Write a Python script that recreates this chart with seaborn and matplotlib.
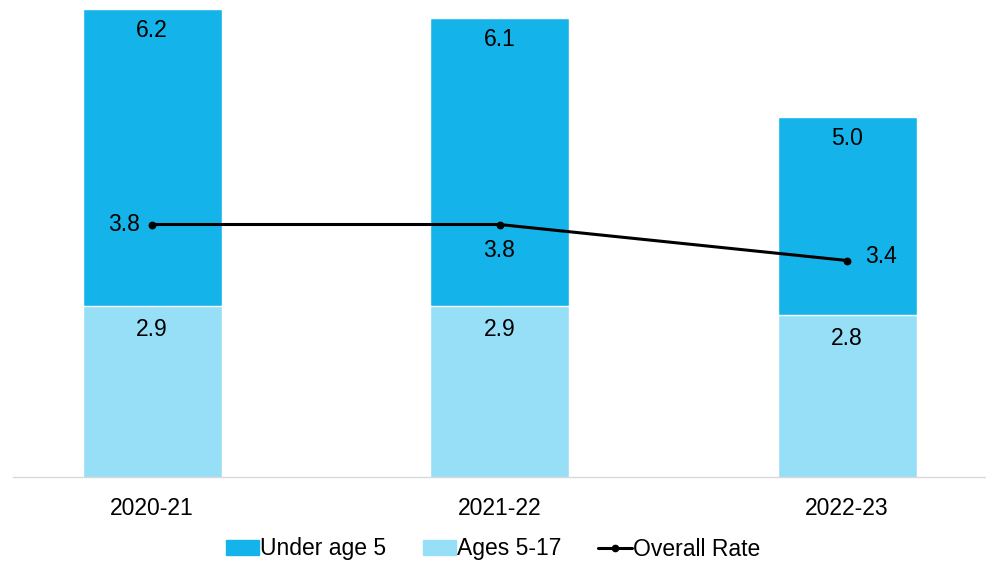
import pandas as pd
import matplotlib.pyplot as plt
import seaborn as sns
from matplotlib.patches import Patch
from matplotlib.lines import Line2D

# Chart data
years = ['2020-21', '2021-22', '2022-23']
under_5 = [6.2, 6.1, 5.0]
ages_5_17 = [2.9, 2.9, 2.8]
overall = [3.8, 3.8, 3.4]

dark_blue = '#14B4EA'
light_blue = '#97DFF6'

sns.set_style("white")
plt.rcParams['font.family'] = ['Liberation Sans', 'DejaVu Sans']
plt.rcParams['text.color'] = 'black'
plt.rcParams['xtick.color'] = 'black'

df = pd.DataFrame({'year': years, 'under_5': under_5,
                   'ages_5_17': ages_5_17, 'overall': overall})

fig = plt.figure(figsize=(9.86, 5.62), dpi=100)
ax = fig.add_axes([13 / 986, 85.5 / 562, 973 / 986, 476.5 / 562])

# Overlapping bars: under age 5 behind, ages 5-17 in front
sns.barplot(data=df, x='year', y='under_5', color=dark_blue, width=0.4,
            saturation=1, ax=ax)
sns.barplot(data=df, x='year', y='ages_5_17', color=light_blue, width=0.4,
            saturation=1, ax=ax)
sns.pointplot(data=df, x='year', y='overall', color='black', markers='o',
              markersize=4, linewidth=2.2, ax=ax)

ax.set_ylim(1, 1 + 476.5 / 90)
ax.set_xlim(-0.4, 2.4)

# Value labels
fs = 16.5
for i in range(len(years)):
    ax.annotate(f'{under_5[i]:.1f}', (i, under_5[i]), xytext=(0, -16),
                textcoords='offset points', ha='center', va='center',
                fontsize=fs, color='black')
    ax.annotate(f'{ages_5_17[i]:.1f}', (i, ages_5_17[i]), xytext=(0, -17),
                textcoords='offset points', ha='center', va='center',
                fontsize=fs, color='black')

line_offsets = [(-9, 0, 'right'), (0, -19, 'center'), (13, 3, 'left')]
for i, (dx, dy, ha) in enumerate(line_offsets):
    ax.annotate(f'{overall[i]:.1f}', (i, overall[i]), xytext=(dx, dy),
                textcoords='offset points', ha=ha, va='center',
                fontsize=fs, color='black')

ax.set_xlabel('')
ax.set_ylabel('')
ax.set_yticks([])
ax.tick_params(axis='x', length=0, pad=15, labelsize=fs, labelcolor='black')
for side in ['top', 'right', 'left']:
    ax.spines[side].set_visible(False)
ax.spines['bottom'].set_color('#d9d9d9')
ax.spines['bottom'].set_linewidth(1)

handles = [Patch(color=dark_blue, label='Under age 5'),
           Patch(color=light_blue, label='Ages 5-17'),
           Line2D([0], [0], color='black', lw=2.2, marker='o', markersize=4.5,
                  label='Overall Rate')]
fig.legend(handles=handles, loc='center', bbox_to_anchor=(0.5, 1 - 549 / 562),
           ncol=3, frameon=False, fontsize=fs, handlelength=1.45,
           handletextpad=0.05, columnspacing=1.6, handleheight=0.63,
           borderaxespad=0, borderpad=0, labelcolor='black')

fig.savefig('out.png', dpi=100)
